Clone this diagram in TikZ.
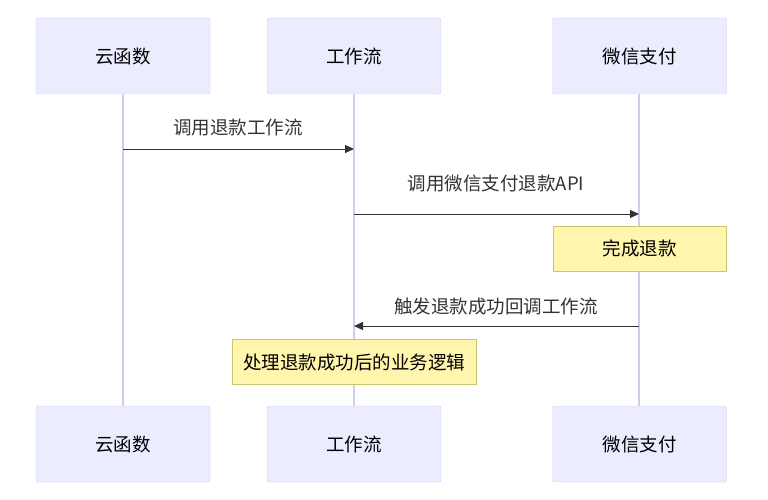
\documentclass[tikz,border=0pt]{standalone}
\usepackage{fontspec}
\setmainfont{Noto Sans CJK SC}
\usetikzlibrary{arrows.meta}
\definecolor{actfill}{HTML}{ECECFF}
\definecolor{actline}{HTML}{D4CCF0}
\definecolor{notefill}{HTML}{FFF5AD}
\definecolor{noteline}{HTML}{C8C86A}
\definecolor{txt}{HTML}{333333}
\begin{document}
\begin{tikzpicture}[x=1pt,y=-1pt,
  actor/.style={draw=actline,fill=actfill,rounded corners=2pt,minimum width=174pt,minimum height=76pt,text=black,font=\fontsize{18.5}{22}\selectfont},
  note/.style={draw=noteline,fill=notefill,minimum height=45pt,text=black,font=\fontsize{18.5}{22}\selectfont},
  life/.style={draw=actline,line width=1.2pt},
  msg/.style={draw=txt,line width=1pt,-{Triangle[length=9pt,width=8pt]}},
  lbl/.style={text=txt,font=\fontsize{18.5}{22}\selectfont}]
\useasboundingbox (0,0) rectangle (768,500);
\coordinate (t1) at (123,94); \coordinate (b1) at (123,406);
\coordinate (t2) at (354,94); \coordinate (b2) at (354,406);
\coordinate (t3) at (639,94); \coordinate (b3) at (639,406);
\draw[life] (t1) -- (b1); \draw[life] (t2) -- (b2); \draw[life] (t3) -- (b3);
\node[actor] (a1) at (123,56) {云函数};
\node[actor] (a2) at (354,56) {工作流};
\node[actor] (a3) at (639.5,56) {微信支付};
\node[actor] (c1) at (123,444) {云函数};
\node[actor] (c2) at (354,444) {工作流};
\node[actor] (c3) at (639.5,444) {微信支付};
\coordinate (m1s) at (123,149); \coordinate (m1e) at (354,149);
\draw[msg] (m1s) -- (m1e);
\node[lbl] (l1) at (238,128) {调用退款工作流};
\coordinate (m2s) at (354,214); \coordinate (m2e) at (639,214);
\draw[msg] (m2s) -- (m2e);
\node[lbl] (l2) at (496,184) {调用微信支付退款API};
\node[note,minimum width=173pt] (n1) at (639.5,248.5) {完成退款};
\coordinate (m3s) at (639,326); \coordinate (m3e) at (354,326);
\draw[msg] (m3s) -- (m3e);
\node[lbl] (l3) at (496,306) {触发退款成功回调工作流};
\node[note,minimum width=244pt] (n2) at (354,362) {处理退款成功后的业务逻辑};
\end{tikzpicture}
\end{document}
